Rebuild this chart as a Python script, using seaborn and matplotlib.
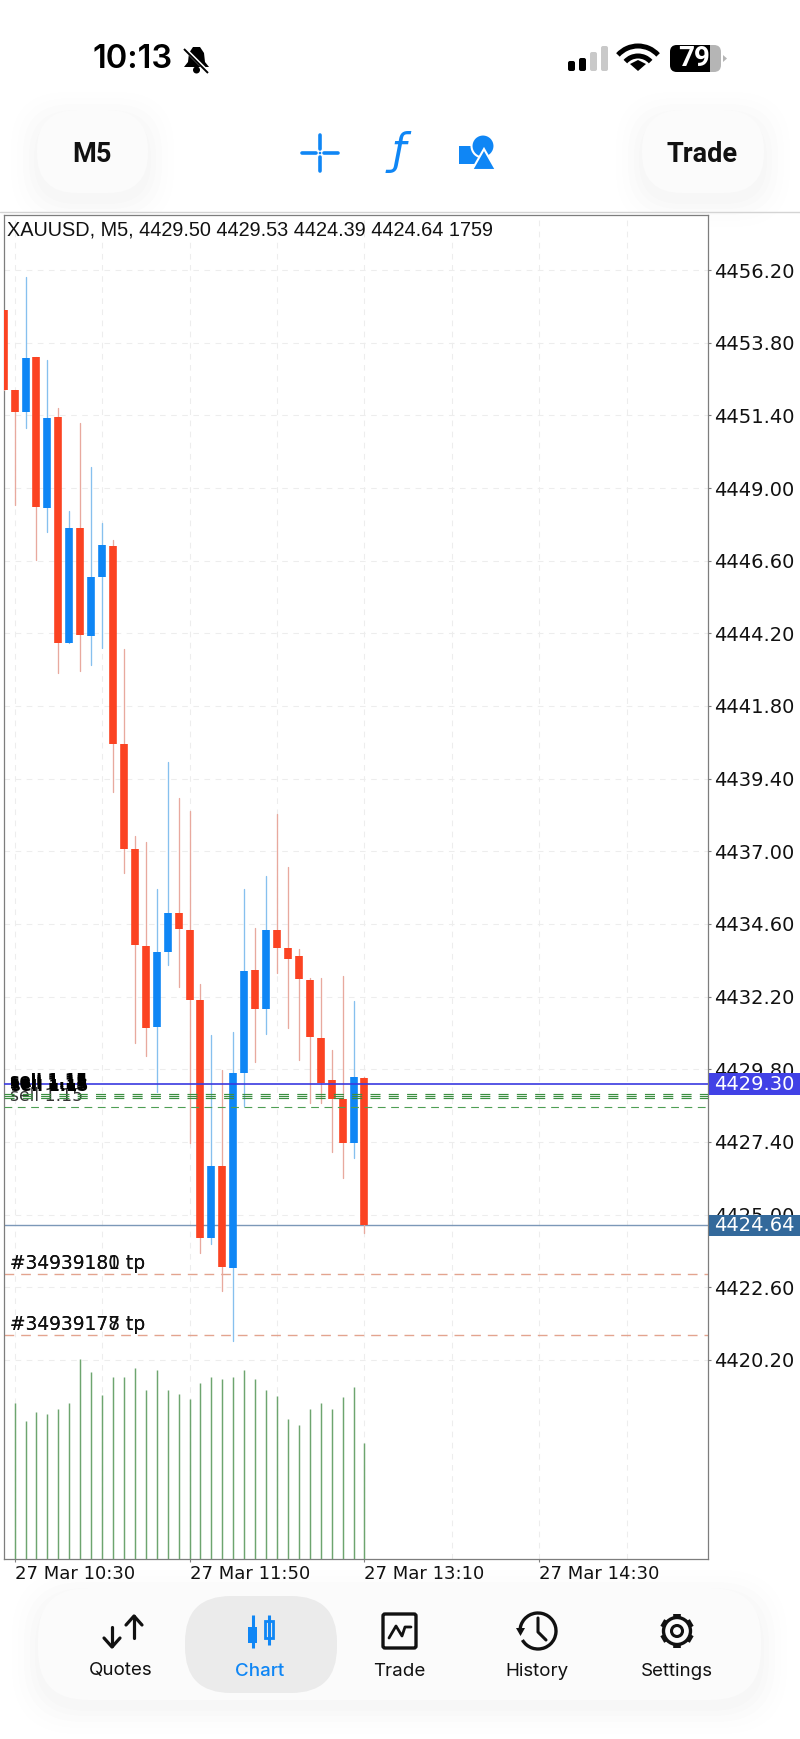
import matplotlib
matplotlib.use('Agg')
import matplotlib.pyplot as plt
from matplotlib.patches import FancyBboxPatch, Rectangle, Circle, Arc, Polygon
from matplotlib.transforms import blended_transform_factory
import numpy as np
import pandas as pd
import seaborn as sns

# candle data. first bar is cut by the left edge
bars = list(range(-1, 33))
opens = [4454.88, 4452.24, 4451.52, 4453.33, 4448.35, 4451.35, 4443.88, 4447.69, 4444.12, 4446.06,
         4447.09, 4440.53, 4437.07, 4433.88, 4431.20, 4433.68, 4434.95, 4434.39, 4432.08, 4424.21,
         4426.60, 4423.23, 4429.68, 4433.08, 4431.78, 4434.41, 4433.79, 4433.53, 4432.74, 4430.83,
         4429.43, 4428.81, 4427.35, 4429.50]
highs = [4454.88, 4452.24, 4455.96, 4453.33, 4453.23, 4451.63, 4448.23, 4451.14, 4449.68, 4447.85,
         4447.28, 4443.67, 4437.50, 4437.31, 4435.74, 4439.94, 4438.77, 4438.33, 4432.61, 4430.93,
         4429.77, 4431.04, 4435.77, 4434.45, 4436.18, 4438.23, 4436.49, 4433.76, 4432.80, 4432.80,
         4430.43, 4432.89, 4432.06, 4429.53]
lows = [4452.24, 4448.44, 4450.97, 4446.62, 4447.55, 4442.90, 4443.88, 4442.94, 4443.15, 4443.72,
        4438.97, 4436.27, 4430.67, 4430.24, 4429.05, 4433.24, 4432.50, 4427.35, 4423.74, 4424.02,
        4422.48, 4420.82, 4428.58, 4430.03, 4430.96, 4432.99, 4431.17, 4430.10, 4428.67, 4428.70,
        4427.07, 4426.21, 4426.87, 4424.39]
closes = [4452.24, 4451.50, 4453.29, 4448.38, 4451.31, 4443.87, 4447.67, 4444.13, 4446.05, 4447.12,
          4440.53, 4437.08, 4433.92, 4431.17, 4433.67, 4434.97, 4434.42, 4432.09, 4424.21, 4426.60,
          4423.25, 4429.66, 4433.04, 4431.78, 4434.39, 4433.80, 4433.44, 4432.77, 4430.85, 4429.36,
          4428.81, 4427.35, 4429.53, 4424.64]
vol_bars = list(range(0, 33))
volumes = [2359, 2087, 2223, 2192, 2273, 2359, 3019, 2822, 2475, 2747, 2747, 2883, 2550, 2853, 2550, 2500, 2414,
           2661, 2747, 2717, 2747, 2853, 2717, 2550, 2470, 2112, 2031, 2273, 2359, 2273, 2444, 2606, 1759]

price_ticks = [4456.20, 4453.80, 4451.40, 4449.00, 4446.60, 4444.20, 4441.80, 4439.40, 4437.00,
               4434.60, 4432.20, 4429.80, 4427.40, 4425.00, 4422.60, 4420.20]
time_ticks = [0, 16, 32, 48]
time_labels = ['27 Mar 10:30', '27 Mar 11:50', '27 Mar 13:10', '27 Mar 14:30']
grid_bars = [8, 24, 40, 56]

ask_price = 4429.30
bid_price = 4424.64
sell_levels = [4428.99, 4428.91, 4428.84]
sell_level_low = 4428.54
tp_levels = [4423.03, 4421.02]

RED = '#fb4322'
BLUE = '#0f86f5'
RED_WICK = '#e8a99e'
BLUE_WICK = '#86c0ee'
GREEN_VOL = '#6da56f'
BLACK = '#111111'

W, H = 800, 1739
sns.set_theme(style='white')
plt.rcParams['font.family'] = ['Liberation Sans', 'DejaVu Sans']

fig = plt.figure(figsize=(W / 100, H / 100), dpi=100, facecolor='white')

# page chrome in pixel coordinates
bg = fig.add_axes([0, 0, 1, 1], zorder=0)
bg.set_xlim(0, W)
bg.set_ylim(H, 0)
bg.axis('off')


def blob(x0, y0, x1, y1, r, fc='#fbfbfb', shadow=True):
    if shadow:
        for grow, a in [(26, 0.004), (20, 0.005), (14, 0.006), (8, 0.007), (3, 0.008)]:
            bg.add_patch(FancyBboxPatch((x0 - grow + r, y0 - grow + 8 + r),
                                        x1 - x0 + 2 * grow - 2 * r, y1 - y0 + 2 * grow - 2 * r,
                                        boxstyle=f'round,pad={r},rounding_size={r + grow * 0.6}',
                                        fc='black', ec='none', alpha=a))
    bg.add_patch(FancyBboxPatch((x0 + r, y0 + r), x1 - x0 - 2 * r, y1 - y0 - 2 * r,
                                boxstyle=f'round,pad={r},rounding_size={r}', fc=fc, ec='none'))


blob(37, 110, 148, 193, 40)
blob(642, 110, 764, 193, 40)
blob(38, 1588, 761, 1700, 50)
blob(185, 1596, 337, 1693, 46, fc='#ebebeb', shadow=False)
bg.plot([0, W], [211.5, 211.5], color='#d4d4d4', lw=1)

# status bar
bg.text(93, 60, '10:13', fontsize=23.5, family='Inter', weight='semibold', color='black', ha='left', va='center')
bg.add_patch(Polygon([(184, 67), (188, 62), (189, 53), (193, 47), (200, 47), (204, 53), (205, 62), (209, 67)],
                     fc='black', ec='none'))
bg.add_patch(Circle((196.5, 70), 3.5, fc='black', ec='none'))
bg.plot([183, 209], [47, 73], color='white', lw=2.6, solid_capstyle='butt')
bg.plot([184, 208], [49, 73], color='black', lw=1.4, solid_capstyle='butt')
for x0, y0, c in [(568, 61, 'black'), (579, 58, 'black'), (590, 52, '#c9c9c9'), (601, 46, '#c9c9c9')]:
    bg.add_patch(FancyBboxPatch((x0 + 2, y0 + 2), 3, 71 - y0 - 4, boxstyle='round,pad=2,rounding_size=2', fc=c, ec='none'))
for r in [27, 17]:
    bg.add_patch(Arc((638, 73), 2 * r, 2 * r, theta1=222, theta2=318, color='black', lw=3.6))
bg.add_patch(Polygon([(630, 64), (638, 71), (646, 64), (638, 60)], fc='black', ec='none'))
bg.add_patch(FancyBboxPatch((677, 52), 37, 13, boxstyle='round,pad=7,rounding_size=7', fc='#b5b5b5', ec='none'))
bg.add_patch(FancyBboxPatch((677, 52), 26, 13, boxstyle='round,pad=7,rounding_size=7', fc='black', ec='none'))
bg.add_patch(Rectangle((700, 45), 10, 27, fc='black', ec='none'))
bg.add_patch(Polygon([(723, 55), (727, 58.5), (723, 62)], fc='#b5b5b5', ec='none'))
bg.text(694, 59, '79', fontsize=20, family='Roboto', weight='bold', color='white', ha='center', va='center')

# toolbar
bg.text(92, 154, 'M5', fontsize=19.5, family='Roboto', weight='bold', color=BLACK, ha='center', va='center')
bg.text(702, 154, 'Trade', fontsize=19.5, family='Roboto', weight='bold', color=BLACK, ha='center', va='center')
bg.plot([302, 316], [153, 153], color=BLUE, lw=2.6)
bg.plot([324, 338], [153, 153], color=BLUE, lw=2.6)
bg.plot([320, 320], [135, 149], color=BLUE, lw=2.6)
bg.plot([320, 320], [157, 171], color=BLUE, lw=2.6)
bg.add_patch(Circle((320, 153), 1.3, fc=BLUE, ec='none'))
bg.text(399, 152, 'ƒ', fontsize=30, family='DejaVu Sans', style='italic', color=BLUE, ha='center', va='center')
bg.add_patch(Rectangle((459, 146), 23, 18, fc=BLUE, ec='none'))
bg.add_patch(Circle((483, 146), 11.5, fc=BLUE, ec='white', lw=1.5, zorder=3))
bg.add_patch(Polygon([(484, 149), (496, 170), (472, 170)], fc=BLUE, ec='white', lw=1.5, zorder=4))

# bottom nav
for x, label in [(121, 'Quotes'), (399, 'Trade'), (537, 'History'), (677, 'Settings')]:
    bg.text(x, 1671, label, fontsize=13.5, family='Inter', color=BLACK, ha='center', va='center')
bg.text(260, 1671, 'Chart', fontsize=13.5, family='Inter', weight='medium', color=BLUE, ha='center', va='center')
bg.plot([112, 112], [1627, 1646], color=BLACK, lw=2.3)
bg.plot([104, 112, 120], [1638, 1647, 1638], color=BLACK, lw=2.3)
bg.plot([134, 134], [1616, 1638], color=BLACK, lw=2.3)
bg.plot([126, 134, 142], [1625, 1616, 1625], color=BLACK, lw=2.3)
bg.plot([252.5, 252.5], [1615, 1648], color=BLUE, lw=2.2, solid_capstyle='butt')
bg.add_patch(Rectangle((248, 1627), 9, 16, fc=BLUE, ec='none'))
bg.plot([269, 269], [1615, 1645], color=BLUE, lw=2.2, solid_capstyle='butt')
bg.add_patch(Rectangle((265, 1621), 8, 17, fc='#ebebeb', ec=BLUE, lw=2))
bg.add_patch(FancyBboxPatch((385, 1616), 29, 30, boxstyle='round,pad=2,rounding_size=2', fc='none', ec=BLACK, lw=2.4))
bg.plot([389, 396, 402, 405, 411], [1638, 1626, 1636, 1627, 1627], color=BLACK, lw=2)
bg.add_patch(Arc((538, 1631), 36, 36, theta1=-180, theta2=150, color=BLACK, lw=2.4))
bg.add_patch(Polygon([(516, 1628), (525, 1628), (520.5, 1636)], fc=BLACK, ec='none'))
bg.plot([538, 538, 546], [1618, 1632, 1640], color=BLACK, lw=2.2)
bg.add_patch(Circle((677, 1631), 13.5, fc='none', ec=BLACK, lw=2.4))
bg.add_patch(Circle((677, 1631), 5.5, fc='none', ec=BLACK, lw=2.2))
for ang in np.deg2rad(np.arange(30, 390, 60)):
    bg.plot([677 + 13.5 * np.cos(ang), 677 + 17 * np.cos(ang)], [1631 + 13.5 * np.sin(ang), 1631 + 17 * np.sin(ang)],
            color=BLACK, lw=5.5, solid_capstyle='butt')

# chart
left, right, top, bottom = 3.7, 707.7, 215, 1559
ax = fig.add_axes([left / W, 1 - bottom / H, (right - left) / W, (bottom - top) / H], zorder=2)
ax.set_facecolor('white')
ax_vol = ax.twinx()
ax_vol.patch.set_visible(False)

# volume sticks
vol_df = pd.DataFrame({'bar': vol_bars, 'top': volumes, 'base': 0})
vol_long = vol_df.melt(id_vars=['bar'], value_vars=['base', 'top'], value_name='ticks')
sns.lineplot(data=vol_long, x='bar', y='ticks', units='bar', estimator=None, sort=False, color=GREEN_VOL,
             linewidth=1.05, solid_capstyle='butt', legend=False, ax=ax_vol)
ax_vol.set_ylim(0, 20321)
ax_vol.set_yticks([])
ax_vol.set_ylabel('')

candles = pd.DataFrame({'bar': bars, 'open': opens, 'high': highs, 'low': lows, 'close': closes})
candles['dir'] = np.where(candles['close'] >= candles['open'], 'up', 'down')
wicks = candles.melt(id_vars=['bar', 'dir'], value_vars=['high', 'low'], value_name='price')
bodies = candles.melt(id_vars=['bar', 'dir'], value_vars=['open', 'close'], value_name='price')
sns.lineplot(data=wicks, x='bar', y='price', hue='dir', units='bar', estimator=None, sort=False,
             palette={'up': BLUE_WICK, 'down': RED_WICK}, linewidth=0.95, legend=False, ax=ax, zorder=3)
sns.lineplot(data=bodies, x='bar', y='price', hue='dir', units='bar', estimator=None, sort=False,
             palette={'up': BLUE, 'down': RED}, linewidth=5.5, solid_capstyle='butt', legend=False, ax=ax, zorder=4)

ax.set_xlim(-1, 63.4)
ax.set_ylim(4413.62, 4458.02)
ax.set_xlabel('')
ax.set_ylabel('')

ax.yaxis.tick_right()
ax.set_yticks(price_ticks)
ax.set_yticklabels([f'{p:.2f}' for p in price_ticks], family='DejaVu Sans', fontsize=14, color=BLACK)
ax.set_xticks(time_ticks)
ax.set_xticklabels(time_labels, family='DejaVu Sans', fontsize=13, color=BLACK, ha='left')
ax.set_xticks(grid_bars, minor=True)
ax.tick_params(axis='y', length=2.5, width=0.8, color='#808080', pad=1.8)
ax.tick_params(axis='x', which='major', length=2.5, width=0.8, color='#808080', pad=1.5, bottom=True)
ax.tick_params(axis='x', which='minor', length=0)
ax.grid(True, which='both', linestyle=(0, (5, 5)), linewidth=0.8, color='#ededed')
ax.set_axisbelow(True)
for s in ax.spines.values():
    s.set_color('#7d7d7d')
    s.set_linewidth(0.9)
for s in ax_vol.spines.values():
    s.set_visible(False)

# order levels
ax.axhline(ask_price, color='#3a3ae0', lw=1.2, zorder=5)
ax.axhline(bid_price, color='#7c98b8', lw=1, zorder=2)
for lvl in sell_levels:
    ax.axhline(lvl, color='#3a8f40', lw=0.85, ls=(0, (8.5, 7)), zorder=5)
ax.axhline(sell_level_low, color='#4f9f55', lw=0.8, ls=(0, (7, 5)), zorder=5)
for lvl in tp_levels:
    ax.axhline(lvl, color='#e3a48f', lw=1, ls=(0, (7, 5)), zorder=2)

trans = blended_transform_factory(ax.transAxes, ax.transData)
for price, col in [(ask_price, '#4141e6'), (bid_price, '#33699b')]:
    ax.add_patch(Rectangle((1.002, price - 0.36), 0.135, 0.72, transform=trans, fc=col, ec='none', clip_on=False, zorder=6))
    ax.text(1.0085, price, f'{price:.2f}', transform=trans, family='DejaVu Sans', fontsize=14, color='white',
            va='center', ha='left', clip_on=False, zorder=7)

# labels on the chart
ax.text(0.0045, 0.9888, 'XAUUSD, M5, 4429.50 4429.53 4424.39 4424.64 1759', transform=ax.transAxes,
        fontsize=14.3, color=BLACK, va='center', ha='left', zorder=8)
for i, (dy, wt) in enumerate([(0.13, 'bold'), (0.07, 'bold'), (0.0, 'bold'), (-0.06, 'bold')]):
    ax.text(0.0085 + i * 0.0004, ask_price + dy, 'sell 1.15', fontsize=11.6, family='DejaVu Sans', weight=wt,
            color='black', va='center', ha='left', transform=trans, zorder=8)
ax.text(0.0085, 4428.90, 'sell 1.15', fontsize=12.4, family='DejaVu Sans', color='#333333', va='center', ha='left',
        transform=trans, zorder=4)
for lbl in ['#34939181 tp', '#34939180 tp']:
    ax.text(0.0085, tp_levels[0] + 0.36, lbl, fontsize=13.4, family='DejaVu Sans', color=BLACK, va='center', ha='left',
            transform=trans, zorder=8)
for lbl in ['#34939177 tp', '#34939178 tp']:
    ax.text(0.0085, tp_levels[1] + 0.36, lbl, fontsize=13.4, family='DejaVu Sans', color=BLACK, va='center', ha='left',
            transform=trans, zorder=8)

fig.savefig('out.png', dpi=100)
